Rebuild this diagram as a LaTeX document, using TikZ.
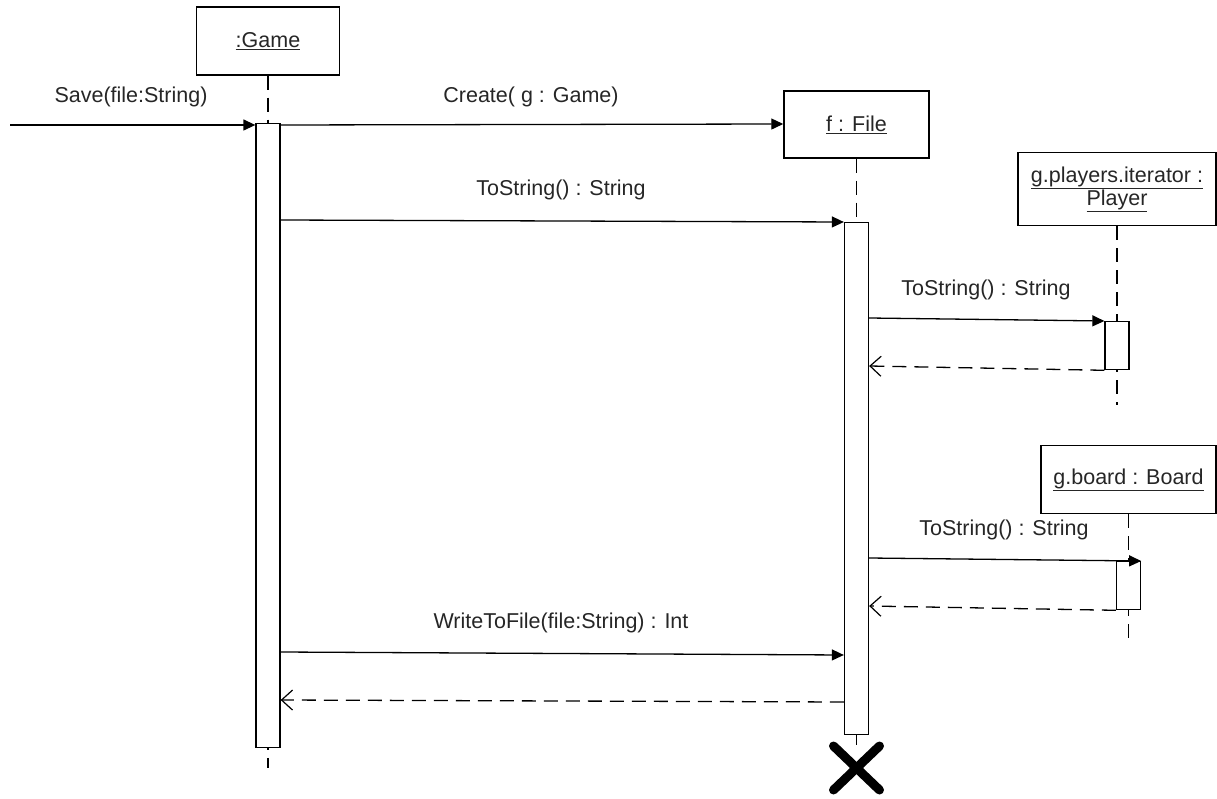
\documentclass[tikz,border=0pt]{standalone}
\usepackage{fontspec}
\setmainfont{Liberation Sans}
\usetikzlibrary{arrows.meta,calc}
\begin{document}
\begin{tikzpicture}[x=1pt,y=-1pt,
  line width=1.3pt,
  lbl/.style={font=\fontsize{21.5}{25}\selectfont, text=black!85, inner sep=0},
  objbox/.style={draw, line width=1.5pt, inner sep=0, align=center,
    font=\fontsize{21.5}{26}\selectfont, text=black!85},
  actbar/.style={draw, fill=white, line width=1.3pt, minimum width=24, inner sep=0, anchor=north},
  lifeline/.style={dash pattern=on 14pt off 8pt, line width=1.3pt},
  callmsg/.style={-{Triangle[length=12pt,width=11pt]}},
  retmsg/.style={dash pattern=on 14pt off 8pt, -{Straight Barb[length=11pt,width=20pt,line width=1.2pt]}},
  killmark/.style={line width=9pt, line cap=round}]
\useasboundingbox (0,0) rectangle (1217,799);

% objects
\node[objbox, minimum width=143, minimum height=68] (game) at (268,41) {\underline{:Game}};
\node[objbox, minimum width=145, minimum height=67] (file) at (856.5,124.5) {\underline{f : File}};
\node[objbox, minimum width=198, minimum height=73] (player) at (1117,189) {\underline{g.players.iterator :}\\[-3pt]\underline{Player}};
\node[objbox, minimum width=175, minimum height=68] (board) at (1128.5,479.5) {\underline{g.board : Board}};

% lifelines
\coordinate (gameend) at (268,768);
\coordinate (fileend) at (856.5,745);
\coordinate (playerend) at (1117,405);
\coordinate (boardend) at (1128.5,640);
\draw[lifeline] (game.south) -- (gameend);
\draw[lifeline] (file.south) -- (fileend);
\draw[lifeline] (player.south) -- (playerend);
\draw[lifeline] (board.south) -- (boardend);

% activation bars
\node[actbar, minimum height=624] (gact) at (268,123) {};
\node[actbar, minimum height=512] (fact) at (856.5,222) {};
\node[actbar, minimum height=48] (pact) at (1117,321) {};
\node[actbar, minimum height=48] (bact) at (1128.5,561) {};

% messages
\coordinate (caller) at (10,125);
\draw[callmsg] (caller) -- (gact.north west |- 0,125);
\draw[callmsg] (gact.north east |- 0,125) -- (file.west |- 0,124);
\draw[callmsg] (gact.east |- 0,220) -- (fact.north west);
\draw[callmsg] (fact.east |- 0,318) -- (pact.north west);
\draw[retmsg] (pact.south west) -- (fact.east |- 0,366);
\draw[callmsg] (fact.east |- 0,558) -- (bact.north east);
\draw[retmsg] (bact.south west) -- (fact.east |- 0,606);
\draw[callmsg] (gact.east |- 0,652) -- (fact.west |- 0,655);
\draw[retmsg] (fact.west |- 0,702) -- (gact.east |- 0,700);

% message labels
\node[lbl] (l1) at (131,97) {Save(file:String)};
\node[lbl] (l2) at (531,97) {Create( g : Game)};
\node[lbl] (l3) at (561,190) {ToString() : String};
\node[lbl] (l4) at (986,290) {ToString() : String};
\node[lbl] (l5) at (1004,530) {ToString() : String};
\node[lbl] (l6) at (561,623) {WriteToFile(file:String) : Int};

% destruction of f
\coordinate (xc) at (856.5,768);
\draw[killmark] ($(xc)+(-23,-22)$) -- ($(xc)+(23,22)$);
\draw[killmark] ($(xc)+(-23,22)$) -- ($(xc)+(23,-22)$);
\end{tikzpicture}
\end{document}
